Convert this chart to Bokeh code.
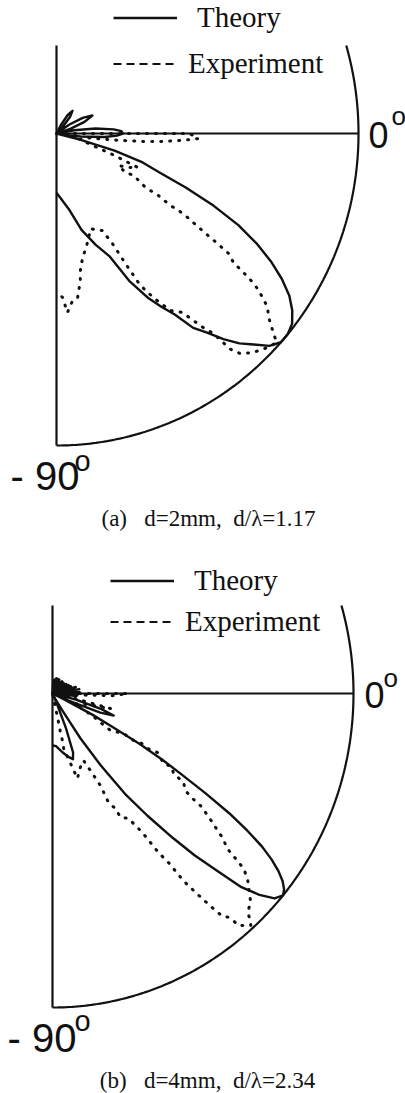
import numpy as np
from bokeh.plotting import figure
from bokeh.models import Range1d, Label, Legend, LegendItem
from bokeh.layouts import column
from bokeh.embed import file_html
from bokeh.resources import INLINE

# ---- data: normalised radiation patterns, angle in degrees, radius 0..1 ----
# (a) d = 2 mm
theory_a_deg = [90, 66, 62, 58, 54, 50, 46, 42, 38, 34, 30, 26, 22, 18, 14, 10, 7, 4, 2, 0,
                -2, -4, -7, -10, -12, -14, -16, -18, -20, -22, -24, -26, -28, -30, -32, -34,
                -36, -38, -40, -42, -44, -46, -48, -50, -52, -54, -56, -58, -60, -63, -66,
                -70, -75, -80, -85, -90]
theory_a_r = [0, 0, 0.03, 0.07, 0.09, 0.07, 0.03, 0, 0, 0.05, 0.10, 0.132, 0.10, 0.05, 0.01,
              0.06, 0.13, 0.19, 0.215, 0.22, 0.20, 0.16, 0.08, 0.02, 0, 0.08, 0.20, 0.30,
              0.36, 0.46, 0.57, 0.67, 0.75, 0.82, 0.88, 0.93, 0.965, 0.99, 1.0, 1.0, 0.98,
              0.94, 0.905, 0.86, 0.81, 0.77, 0.70, 0.655, 0.61, 0.53, 0.43, 0.38, 0.32,
              0.25, 0.215, 0.19]
exp_a_deg = [3, 0, -2, -3, -4, -5, -6, -8, -14, -20, -22, -24.6, -26.6, -28.7, -27.7, -29.5,
             -30.4, -30.5, -31.5, -31.3, -31.8, -32.8, -33.5, -34, -35.2, -36, -36.5, -37.7,
             -38.6, -40, -41.4, -42.6, -44.5, -47.1, -49.2, -50.2, -51, -52, -52.9, -54,
             -56.4, -58.5, -60.3, -61.3, -62.3, -64, -66.4, -69.6, -73.6, -77.9, -79.8,
             -80.5, -82.4, -84.3, -86.4, -87.8, -89.8]
exp_a_r = [0, 0.44, 0.47, 0.42, 0.36, 0.30, 0.21, 0.10, 0.08, 0.20, 0.29, 0.262, 0.23, 0.26,
           0.29, 0.32, 0.342, 0.392, 0.443, 0.469, 0.51, 0.575, 0.639, 0.687, 0.717, 0.786,
           0.819, 0.866, 0.894, 0.917, 0.954, 0.99, 0.979, 0.958, 0.932, 0.90, 0.825, 0.79,
           0.752, 0.709, 0.681, 0.62, 0.561, 0.475, 0.398, 0.346, 0.339, 0.325, 0.364, 0.41,
           0.446, 0.478, 0.53, 0.538, 0.575, 0.526, 0.506]

# (b) d = 4 mm
theory_b_deg = [90, 87, 84, 81, 78, 75, 72, 69, 66, 63, 60, 57, 54, 51, 48, 45, 42, 39, 36,
                33, 30, 27, 24, 21, 18, 15, 12, 9, 6, 3, 0, -3, -6, -9, -12, -14, -17, -19,
                -21, -23, -25, -26, -27, -28, -29, -30, -31, -32, -33, -34, -35, -36, -37,
                -38, -39, -40, -41.5, -43, -44.5, -46, -47.5, -49, -51, -53, -55, -57, -59,
                -61, -64, -66, -68, -70, -72, -75, -80, -86, -90]
theory_b_r = [0, 0.04, 0, 0.045, 0, 0.05, 0, 0.05, 0, 0.05, 0, 0.045, 0, 0.05, 0, 0.05, 0,
              0.05, 0, 0.055, 0, 0.06, 0, 0.065, 0, 0.08, 0, 0.09, 0, 0.09, 0.08, 0, 0.08,
              0, 0.02, 0.08, 0.17, 0.215, 0.17, 0.06, 0, 0.05, 0.15, 0.22, 0.33, 0.42, 0.50,
              0.60, 0.70, 0.78, 0.85, 0.90, 0.94, 0.97, 0.99, 1.0, 0.985, 0.94, 0.88, 0.78,
              0.70, 0.61, 0.50, 0.40, 0.28, 0.17, 0.06, 0.02, 0, 0.04, 0.12, 0.20, 0.22,
              0.21, 0.19, 0.168, 0.165]
exp_b_deg = [3, 0, -2, -4, -10, -14, -17, -24, -28, -30.1, -31.4, -28.3, -29.1, -28.1, -29,
             -28.3, -31.1, -30.5, -32.4, -33, -35, -35.7, -36, -36.7, -37.7, -38.5, -39.1,
             -40.4, -41, -41.3, -42.3, -45.3, -47.1, -47.7, -48.3, -50.1, -50.3, -50.6,
             -51.5, -52.2, -52.7, -53, -53.9, -54.4, -55.2, -56, -57.6, -60.2, -60.3, -61.8,
             -61.5, -62.8, -64.2, -68, -73, -74.9, -78, -77.6, -77.9, -77.6, -77.5, -78]
exp_b_r = [0, 0.25, 0.20, 0.06, 0.05, 0.20, 0.12, 0.08, 0.15, 0.184, 0.226, 0.268, 0.308,
           0.331, 0.361, 0.396, 0.431, 0.46, 0.476, 0.519, 0.539, 0.573, 0.608, 0.634, 0.672,
           0.70, 0.728, 0.763, 0.82, 0.845, 0.876, 0.936, 0.952, 0.978, 0.99, 0.963, 0.94,
           0.922, 0.907, 0.858, 0.821, 0.801, 0.738, 0.662, 0.617, 0.534, 0.471, 0.455,
           0.422, 0.394, 0.333, 0.276, 0.237, 0.25, 0.283, 0.231, 0.179, 0.153, 0.127,
           0.078, 0.046, 0]

series_labels = ["Theory", "Experiment"]
angle_labels = ["0", "- 90"]
degree_mark = "o"
NB = "\u00a0"
captions = ["(a)" + NB * 3 + "d=2mm," + NB * 2 + "d/\u03bb=1.17",
            "(b)" + NB * 3 + "d=4mm," + NB * 2 + "d/\u03bb=2.34"]

W = 405


def polar_xy(deg, r):
    t = np.radians(np.asarray(deg, dtype=float))
    rr = np.asarray(r, dtype=float)
    return rr * np.cos(t), rr * np.sin(t)


def make_panel(height, ox, oy, sx, sy, t_deg, t_r, e_deg, e_r, caption, cfg):
    p = figure(width=W, height=height, output_backend="svg", toolbar_location=None,
               x_axis_type=None, y_axis_type=None, min_border=0,
               x_range=Range1d(-ox / sx, (W - ox) / sx),
               y_range=Range1d((oy - height) / sy, oy / sy))
    p.outline_line_color = None
    p.background_fill_color = "white"
    p.border_fill_color = "white"

    ink = "#111111"
    # polar frame: vertical -90 axis, 0-degree ray and outer unit arc
    top = cfg["top"]
    p.line([0, 0], [top, -1], line_color=ink, line_width=2.2)
    p.line([0, 1], [0, 0], line_color=ink, line_width=2.2)
    arc_t = np.radians(np.linspace(np.degrees(np.arcsin(top)), -90, 200))
    p.line(np.cos(arc_t), np.sin(arc_t), line_color=ink, line_width=2.2)

    tx, ty = polar_xy(t_deg, t_r)
    r_theory = p.line(tx, ty, line_color=ink, line_width=2.4, line_join="round")
    ex, ey = polar_xy(e_deg, e_r)
    p.line(ex, ey, line_color=ink, line_width=3, line_dash="1 8", line_cap="round")
    # legend sample for the measured curve
    r_dash = p.line([np.nan, np.nan], [np.nan, np.nan], line_color=ink, line_width=2,
                    line_dash="8 5")

    for item, (lx, ly, stand) in zip([LegendItem(label=series_labels[0], renderers=[r_theory]),
                                      LegendItem(label=series_labels[1], renderers=[r_dash])],
                                     cfg["legend"]):
        leg = Legend(items=[item], location=(lx, ly), padding=0, margin=0, spacing=0,
                     glyph_width=64, glyph_height=29, label_height=34,
                     label_standoff=stand, label_text_font="Liberation Serif",
                     label_text_font_size="29px", label_text_color=ink,
                     border_line_color=None, background_fill_alpha=0)
        p.add_layout(leg)

    sans = "Liberation Sans"
    # 0 degree label at the end of the 0-degree ray
    p.add_layout(Label(x=1, y=0, x_offset=cfg["zero"][0], y_offset=cfg["zero"][1],
                       text=angle_labels[0], text_font=sans, text_font_size="36px",
                       text_color=ink, text_baseline="alphabetic"))
    p.add_layout(Label(x=1, y=0, x_offset=cfg["zero_o"][0], y_offset=cfg["zero_o"][1],
                       text=degree_mark, text_font=sans, text_font_size="26px",
                       text_color=ink, text_baseline="alphabetic"))
    # -90 degree label below the vertical axis
    p.add_layout(Label(x=0, y=-1, x_offset=cfg["m90"][0], y_offset=cfg["m90"][1],
                       text=angle_labels[1], text_font=sans, text_font_size="40px",
                       text_color=ink, text_baseline="alphabetic"))
    p.add_layout(Label(x=0, y=-1, x_offset=cfg["m90_o"][0], y_offset=cfg["m90_o"][1],
                       text=degree_mark, text_font=sans, text_font_size="29px",
                       text_color=ink, text_baseline="alphabetic"))
    # caption
    p.add_layout(Label(x=cfg["cap"][0], y=cfg["cap"][1], x_units="screen", y_units="screen",
                       text=caption, text_font="Liberation Serif", text_font_size="23px",
                       text_color=ink, text_align="center", text_baseline="alphabetic"))
    return p


cfg_a = dict(top=0.282, legend=[(113, 511.5, 20), (113, 465.5, 11)],
             zero=(10, -1), zero_o=(33, 18), m90=(-46, -30), m90_o=(18, -15), cap=(208, 28))
cfg_b = dict(top=0.28, legend=[(110, 495.5, 20), (110, 454.5, 11)],
             zero=(11, -1), zero_o=(30, 16), m90=(-45, -30), m90_o=(22, -13), cap=(207, 13))

pa = make_panel(546, 56, 133, 302, 312, theory_a_deg, theory_a_r, exp_a_deg, exp_a_r,
                captions[0], cfg_a)
pb = make_panel(547, 52, 147, 301, 314, theory_b_deg, theory_b_r, exp_b_deg, exp_b_r,
                captions[1], cfg_b)

layout = column(pa, pb, spacing=0)
open("out.html", "w").write(file_html(layout, INLINE))
